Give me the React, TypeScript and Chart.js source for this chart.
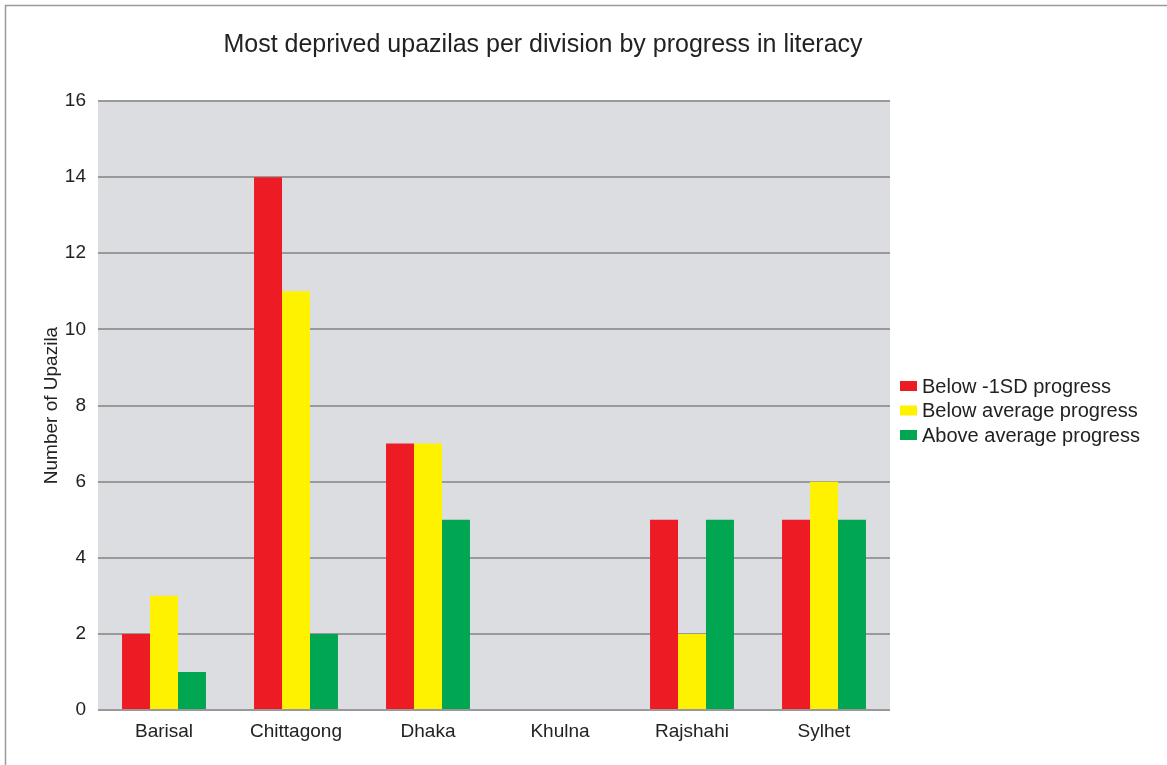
import React, { useEffect, useRef } from "react";
import { Chart, registerables } from "chart.js";

Chart.register(...registerables);

const categories = ["Barisal", "Chittagong", "Dhaka", "Khulna", "Rajshahi", "Sylhet"];
const belowSD = [2, 14, 7, 0, 5, 5];
const belowAverage = [3, 11, 7, 0, 2, 6];
const aboveAverage = [1, 2, 5, 0, 5, 5];
const seriesNames = ["Below -1SD progress", "Below average progress", "Above average progress"];
const seriesColors = ["#ed1c24", "#fff200", "#00a651"];
const chartTitle = "Most deprived upazilas per division by progress in literacy";
const yAxisTitle = "Number of Upazila";
const yMin = 0;
const yMax = 16;
const yStep = 2;

const FONT = "'Liberation Sans', Arial, Helvetica, sans-serif";

const decorPlugin = {
  id: "decor",
  beforeDraw(chart: any) {
    const { ctx, chartArea, width, height } = chart;
    ctx.save();
    ctx.fillStyle = "#ffffff";
    ctx.fillRect(0, 0, width, height);
    ctx.strokeStyle = "#9a9a9a";
    ctx.lineWidth = 1.5;
    ctx.beginPath();
    ctx.moveTo(5.5, height);
    ctx.lineTo(5.5, 5.5);
    ctx.lineTo(width, 5.5);
    ctx.stroke();
    ctx.fillStyle = "#dcdde0";
    ctx.fillRect(chartArea.left, chartArea.top, chartArea.right - chartArea.left, chartArea.bottom - chartArea.top);
    ctx.restore();
  },
  afterDraw(chart: any) {
    const { ctx, chartArea } = chart;
    ctx.save();
    ctx.fillStyle = "#222222";
    ctx.font = `25px ${FONT}`;
    ctx.textAlign = "center";
    ctx.textBaseline = "alphabetic";
    ctx.fillText(chartTitle, 543, 52);

    const lx = chartArea.right + 10;
    const rowY = 386;
    const rowGap = 24.5;
    ctx.font = `20px ${FONT}`;
    ctx.textAlign = "left";
    ctx.textBaseline = "middle";
    chart.data.datasets.forEach((ds: any, i: number) => {
      const cy = rowY + i * rowGap;
      ctx.fillStyle = ds.backgroundColor;
      ctx.fillRect(lx, cy - 5, 17, 10);
      ctx.fillStyle = "#222222";
      ctx.fillText(ds.label, lx + 22, cy + 1);
    });
    ctx.restore();
  },
};

export default function App() {
  const canvasRef = useRef<HTMLCanvasElement | null>(null);

  useEffect(() => {
    document.body.style.margin = "0";
    const canvas = canvasRef.current;
    if (!canvas) return;
    const values = [belowSD, belowAverage, aboveAverage];
    const chart = new Chart(canvas, {
      type: "bar",
      data: {
        labels: categories,
        datasets: values.map((v, i) => ({
          label: seriesNames[i],
          data: v,
          backgroundColor: seriesColors[i],
          borderWidth: 0,
          barPercentage: 1,
          categoryPercentage: 0.636,
        })),
      },
      options: {
        animation: false,
        responsive: false,
        devicePixelRatio: 1,
        layout: { padding: { left: 0, right: 277, top: 101, bottom: 0 } },
        plugins: {
          legend: { display: false },
          title: { display: false },
          tooltip: { enabled: false },
        },
        scales: {
          x: {
            grid: { display: false, drawTicks: false },
            border: { display: false },
            ticks: {
              color: "#222222",
              font: { family: FONT, size: 19 },
              padding: 10,
              maxRotation: 0,
            },
            afterFit(scale: any) {
              scale.height = 55;
            },
          },
          y: {
            min: yMin,
            max: yMax,
            grid: { color: "#999999", lineWidth: 2, drawTicks: false },
            border: { display: false },
            ticks: {
              stepSize: yStep,
              color: "#222222",
              font: { family: FONT, size: 19 },
              padding: 12,
            },
            title: {
              display: true,
              text: yAxisTitle,
              color: "#222222",
              font: { family: FONT, size: 19 },
              padding: { top: 40, bottom: 0 },
            },
            afterFit(scale: any) {
              scale.width = 98;
            },
          },
        },
      },
      plugins: [decorPlugin],
    });
    return () => chart.destroy();
  }, []);

  return (
    <canvas
      ref={canvasRef}
      width={1167}
      height={765}
      style={{ display: "block", width: 1167, height: 765 }}
    />
  );
}
